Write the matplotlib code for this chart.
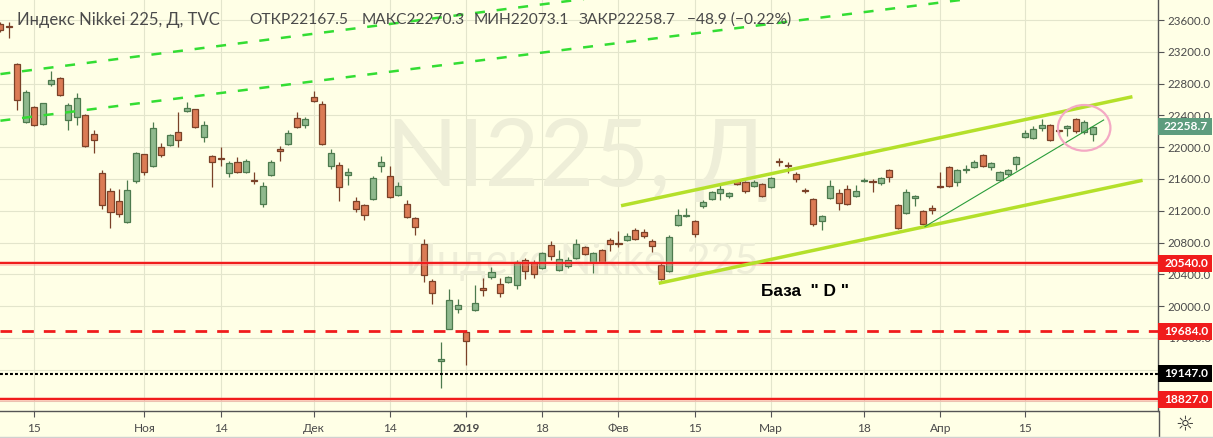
import numpy as np
import matplotlib
matplotlib.use("Agg")
import matplotlib.pyplot as plt
from matplotlib.patches import Ellipse, Rectangle
from matplotlib.lines import Line2D
from matplotlib.transforms import blended_transform_factory

# daily candles, Nikkei 225
opens = [23546, 23528, 23042, 22320, 22501, 22295, 22798, 22870, 22338, 22376,
         22401, 22162, 21671, 21444, 21319, 21054, 21570, 21910, 21759, 21998,
         22023, 22187, 22451, 22476, 22124, 21889, 21853, 21671, 21809, 21683,
         21587, 21281, 21646, 21973, 22036, 22363, 22275, 22627, 22539, 21759,
         21772, 21646, 21319, 21268, 21344, 21759, 21633, 21394, 21281, 21105,
         20777, 20312, 19305, 19708, 19960, 19670, 19947, 20224, 20362, 20274,
         20299, 20262, 20576, 20538, 20475, 20765, 20450, 20501, 20601, 20739,
         20551, 20702, 20828, 20794, 20828, 20954, 20929, 20815, 20513, 20438,
         21016, 21138, 21066, 21256, 21344, 21420, 21381, 21570, 21558, 21507,
         21532, 21495, 21820, 21775, 21658, 21462, 21344, 21067, 21356, 21420,
         21470, 21381, 21579, 21575, 21545, 21709, 21268, 21169, 21356, 21193,
         21230, 21505, 21746, 21558, 21717, 21746, 21897, 21746, 21583, 21658,
         21784, 22124, 22111, 22237, 22275, 22205, 22237, 22350, 22187, 22167.5]
highs = [23575, 23579, 23059, 22715, 22518, 22562, 22958, 22883, 22552, 22678,
         22417, 22212, 21709, 21486, 21470, 21583, 21933, 21920, 22313, 22048,
         22162, 22438, 22564, 22486, 22329, 21901, 21998, 21826, 21876, 21851,
         21683, 21558, 21834, 22014, 22212, 22438, 22376, 22707, 22577, 21973,
         21809, 21734, 21369, 21281, 21633, 21885, 21759, 21558, 21331, 21117,
         20848, 20337, 19544, 20211, 20085, 19695, 20262, 20350, 20488, 20350,
         20375, 20576, 20601, 20576, 20677, 20815, 20702, 20614, 20840, 20752,
         20677, 20715, 20853, 20941, 20916, 20979, 20966, 20840, 20551, 20891,
         21218, 21230, 21079, 21331, 21444, 21521, 21432, 21583, 21570, 21583,
         21545, 21621, 21860, 21817, 21683, 21482, 21356, 21142, 21583, 21470,
         21521, 21521, 21608, 21595, 21621, 21721, 21281, 21470, 21394, 21205,
         21268, 21683, 21759, 21721, 21772, 21834, 21910, 21809, 21696, 21721,
         21885, 22212, 22262, 22352, 22287, 22218, 22275, 22363, 22338, 22270.3]
lows = [23449, 23377, 22467, 22310, 22266, 22285, 22773, 22650, 22220, 22275,
        22008, 21923, 21218, 20979, 21117, 21042, 21545, 21646, 21750, 21872,
        22011, 22002, 22438, 22237, 22061, 21495, 21767, 21621, 21671, 21671,
        21536, 21251, 21633, 21822, 22027, 22245, 22245, 22564, 22023, 21721,
        21319, 21520, 21180, 21079, 21337, 21683, 21356, 21381, 21105, 20891,
        20299, 20022, 18965, 19708, 19909, 19255, 19934, 20123, 20337, 20111,
        20287, 20211, 20337, 20350, 20463, 20576, 20438, 20475, 20589, 20639,
        20412, 20538, 20689, 20739, 20815, 20828, 20853, 20677, 20330, 20430,
        21004, 21117, 20866, 21230, 21331, 21331, 21356, 21520, 21419, 21495,
        21369, 21482, 21759, 21671, 21558, 21419, 21004, 20954, 21344, 21205,
        21268, 21369, 21558, 21432, 21520, 21558, 20966, 21155, 21256, 21016,
        21155, 21482, 21495, 21507, 21671, 21734, 21746, 21709, 21570, 21633,
        21709, 22111, 22098, 22199, 22073, 22170, 22137, 22174, 22162, 22073.1]
closes = [23470, 23508, 22590, 22690, 22275, 22552, 22841, 22652, 22527, 22615,
          22011, 22086, 21268, 21180, 21155, 21457, 21923, 21683, 22237, 21897,
          22149, 22086, 22489, 22250, 22275, 21809, 21848, 21797, 21683, 21822,
          21579, 21507, 21809, 21948, 22174, 22257, 22350, 22577, 22036, 21923,
          21495, 21683, 21218, 21142, 21608, 21809, 21369, 21507, 21117, 20991,
          20387, 20161, 19330, 20073, 20010, 19557, 20035, 20198, 20425, 20161,
          20362, 20551, 20438, 20400, 20664, 20626, 20589, 20576, 20777, 20650,
          20664, 20551, 20777, 20786, 20878, 20840, 20878, 20752, 20337, 20866,
          21142, 21146, 20903, 21306, 21432, 21470, 21420, 21532, 21444, 21558,
          21381, 21608, 21818, 21763, 21595, 21452, 21029, 21129, 21507, 21293,
          21281, 21444, 21588, 21565, 21608, 21621, 20979, 21432, 21381, 21029,
          21205, 21500, 21507, 21709, 21725, 21809, 21759, 21797, 21683, 21709,
          21872, 22174, 22225, 22275, 22086, 22200, 22262, 22199, 22313, 22258.7]

tick_pos = [4, 17, 26, 37, 46, 55, 64, 73, 82, 91, 102, 111, 121]
tick_labels = ['15', 'Ноя', '14', 'Дек', '14', '2019', '18', 'Фев', '15', 'Мар', '18', 'Апр', '15']
price_ticks = [18800, 19200, 19600, 20000, 20400, 20800, 21200, 21600, 22000,
               22400, 22800, 23200, 23600]
hidden_ticks = [18800, 19200]   # sit under the level tags

# drawn objects
red_solid = [20540.0, 18827.0]
red_dash = 19684.0
black_dot = 19147.0
last_price = 22258.7
dash_up_x, dash_up_y = [0, 68], [22920, 23852]
dash_lo_x, dash_lo_y = [0, 113.4], [22333, 23852]
chan_up_x, chan_up_y = [73.3, 133.7], [21263, 22635]
chan_lo_x, chan_lo_y = [77.75, 134.9], [20287, 21583]
thin_x, thin_y = [109.2, 130.3], [21001, 22342]

W, H = 1213, 438
BG = '#ffffe6'
TXT = '#4a4a4a'
RED = '#f01c1c'

fig = plt.figure(figsize=(W / 100, H / 100), dpi=100)
fig.patch.set_facecolor(BG)
ax = fig.add_axes([0, 27 / H, 1158 / W, 411 / H])
ax.set_facecolor(BG)
ax.set_xlim(-0.05, 136.72)
ax.set_ylim(18680, 23852)

for s in ['left', 'top']:
    ax.spines[s].set_visible(False)
for s in ['right', 'bottom']:
    ax.spines[s].set_color('#555555')
    ax.spines[s].set_linewidth(1.0)

ax.yaxis.tick_right()
ax.set_yticks(price_ticks)
ax.set_yticklabels(['' if v in hidden_ticks else '%.1f' % v for v in price_ticks])
ax.set_xticks(tick_pos)
ax.set_xticklabels(tick_labels)
ax.tick_params(axis='y', length=4, color='#555555', labelsize=8.3, labelcolor=TXT, pad=3)
ax.tick_params(axis='x', length=4, color='#555555', labelsize=8.6, labelcolor=TXT, pad=5)
for lab in ax.get_xticklabels() + ax.get_yticklabels():
    lab.set_fontfamily('Lato')
ax.get_xticklabels()[5].set_fontweight('bold')
ax.grid(color='#e3e5cc', lw=0.8, zorder=0)
ax.set_axisbelow(True)

# watermark (inside the axes so candles sit on top)
ax.text(578 / W, 1 - 160 / H, 'NI225, Д', fontsize=68, family='Lato', color='#eeeed8',
        ha='center', va='center', transform=fig.transFigure, zorder=1)
ax.text(582 / W, 1 - 262 / H, 'Индекс Nikkei 225', fontsize=30, family='Lato', color='#eeeed8',
        ha='center', va='center', transform=fig.transFigure, zorder=1)

# candles
o = np.array(opens, float)
h = np.array(highs, float)
l = np.array(lows, float)
c = np.array(closes, float)
x = np.arange(len(o))
up = c >= o
fill = np.where(up, '#8fb98e', '#db7b55')
edge = np.where(up, '#4d7a4e', '#7a4128')
ax.vlines(x, l, h, colors=edge, lw=0.9, zorder=3)
body = np.maximum(np.abs(c - o), 14)
ax.bar(x, body, bottom=np.minimum(o, c), width=0.72, color=fill, edgecolor=edge, lw=0.9, zorder=4)

# horizontal levels
for lv in red_solid:
    ax.axhline(lv, color='#ff8080', lw=3.6, alpha=0.35, zorder=5)
    ax.axhline(lv, color=RED, lw=1.5, zorder=5)
ax.axhline(red_dash, color=RED, lw=2.0, dashes=(4.2, 3.6), zorder=5)
ax.axhline(black_dot, color='black', lw=1.5, dashes=(1.4, 1.0), zorder=5)

# trend lines (dashed ones run off the top)
for lx, ly in [(dash_up_x, dash_up_y), (dash_lo_x, dash_lo_y)]:
    k = (ly[1] - ly[0]) / (lx[1] - lx[0])
    ax.plot([lx[0], 136.7], [ly[0], ly[0] + k * (136.7 - lx[0])],
            color='#33dd33', lw=1.8, dashes=(4, 4.7), zorder=6)
ax.plot(chan_up_x, chan_up_y, color='#b4e02a', lw=2.5, solid_capstyle='butt', zorder=6)
ax.plot(chan_lo_x, chan_lo_y, color='#b4e02a', lw=2.5, solid_capstyle='butt', zorder=6)
ax.plot(thin_x, thin_y, color='#2a9d3a', lw=0.8, zorder=6)
ax.add_patch(Ellipse((128.0, 22243), 6.2, 575, fill=False, edgecolor='#f4a9c4', lw=1.6, zorder=7))

ax.text(89.8, 20190, 'База  " D "', fontsize=12.4, family='Liberation Sans', weight='bold',
        color='black', va='center', ha='left', zorder=7)

# price tags on the scale
tr = blended_transform_factory(fig.transFigure, ax.transData)
px = (23852 - 18680) / 411.0
tags = [(20540.0, RED), (19684.0, RED), (19147.0, 'black'), (18827.0, RED), (last_price, '#5d9c7e')]
for val, col in tags:
    ax.add_patch(Rectangle((1158 / W, val - 8.5 * px), 54 / W, 17 * px, transform=tr,
                           facecolor=col, edgecolor='none', clip_on=False, zorder=10))
    ax.text(1186 / W, val, '%.1f' % val, transform=tr, color='white', fontsize=8.6,
            family='Lato', weight='bold', ha='center', va='center', clip_on=False, zorder=11)

# axis leftovers
fig.add_artist(Line2D([1158.5 / W, 1158.5 / W], [0, 27 / H], color='#555555', lw=1.0))
fig.add_artist(Line2D([0, 1], [1.5 / H, 1.5 / H], color='#d0d0d0', lw=1.0))
fig.text(1185 / W, 1 - 424 / H, '☼', fontsize=15, family='DejaVu Sans', color='#333333',
         ha='center', va='center')

# header
hy = 1 - 19.5 / H
fig.text(17 / W, hy, 'Индекс Nikkei 225, Д, TVC', fontsize=12, family='Lato', color=TXT, va='center')
for xx, s in [(249, 'ОТКР22167.5'), (362, 'МАКС22270.3'), (474, 'МИН22073.1'),
              (579, 'ЗАКР22258.7'), (687, '−48.9 (−0.22%)')]:
    fig.text(xx / W, hy, s, fontsize=11.2, family='Lato', color=TXT, va='center')

fig.savefig('out.png', dpi=100, facecolor=BG)
